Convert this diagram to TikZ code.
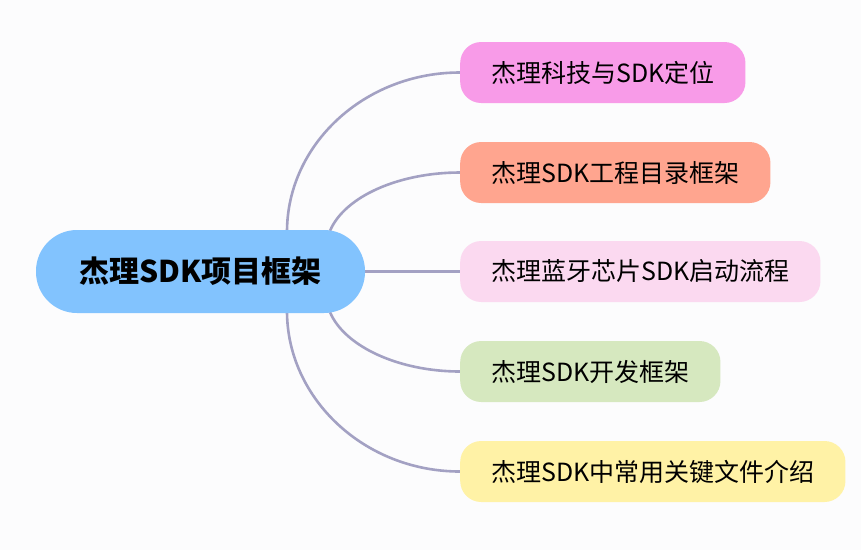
\documentclass[tikz,border=0pt]{standalone}
\usepackage{fontspec}
\setmainfont{Noto Sans CJK SC}
\usetikzlibrary{backgrounds}
\definecolor{bgc}{HTML}{FCFCFD}
\definecolor{linec}{HTML}{A3A1C3}
\definecolor{rootc}{HTML}{82C3FE}
\definecolor{ca}{HTML}{F89BE8}
\definecolor{cb}{HTML}{FFA58F}
\definecolor{cc}{HTML}{FBD9F0}
\definecolor{cd}{HTML}{D6E8BF}
\definecolor{ce}{HTML}{FFF2A6}
\tikzset{
  rootbox/.style={fill=rootc, rounded corners=41pt, minimum height=83pt, minimum width=329pt, inner xsep=10pt, inner ysep=0pt, font=\fontsize{30}{34}\selectfont\bfseries, text=black},
  childbox/.style={rounded corners=21pt, minimum height=61pt, inner xsep=31pt, inner ysep=0pt, anchor=west, font=\fontsize{25}{30}\selectfont, text=black},
  conn/.style={draw=linec, line width=2.6pt}
}
\begin{document}
\begin{tikzpicture}[x=1pt,y=-1pt]
\useasboundingbox (0,0) rectangle (861,550);
\node[rootbox] (root) at (200.5,271.5) {杰理SDK项目框架};
\node[childbox, fill=ca] (n1) at (460,72.5) {杰理科技与SDK定位};
\node[childbox, fill=cb] (n2) at (460,172.5) {杰理SDK工程目录框架};
\node[childbox, fill=cc] (n3) at (460,271.5) {杰理蓝牙芯片SDK启动流程};
\node[childbox, fill=cd] (n4) at (460,371.5) {杰理SDK开发框架};
\node[childbox, fill=ce] (n5) at (460,471.5) {杰理SDK中常用关键文件介绍};
\coordinate (s1) at ([xshift=86.5pt,yshift=-2pt]root.north);
\coordinate (s2) at ([xshift=129.5pt,yshift=-1pt]root.north);
\coordinate (s4) at ([xshift=129.5pt,yshift=1pt]root.south);
\coordinate (s5) at ([xshift=86.5pt,yshift=2pt]root.south);
\begin{scope}[on background layer]
\fill[bgc] (0,0) rectangle (861,550);
\draw[conn] (s1) .. controls ([yshift=87pt]s1) and ([xshift=-96pt]n1.west) .. (n1.west);
\draw[conn] (s2) .. controls ([xshift=15pt,yshift=35pt]s2) and ([xshift=-60pt]n2.west) .. (n2.west);
\draw[conn] (root.east) -- (n3.west);
\draw[conn] (s4) .. controls ([xshift=15pt,yshift=-35pt]s4) and ([xshift=-60pt]n4.west) .. (n4.west);
\draw[conn] (s5) .. controls ([yshift=-87pt]s5) and ([xshift=-96pt]n5.west) .. (n5.west);
\end{scope}
\end{tikzpicture}
\end{document}
